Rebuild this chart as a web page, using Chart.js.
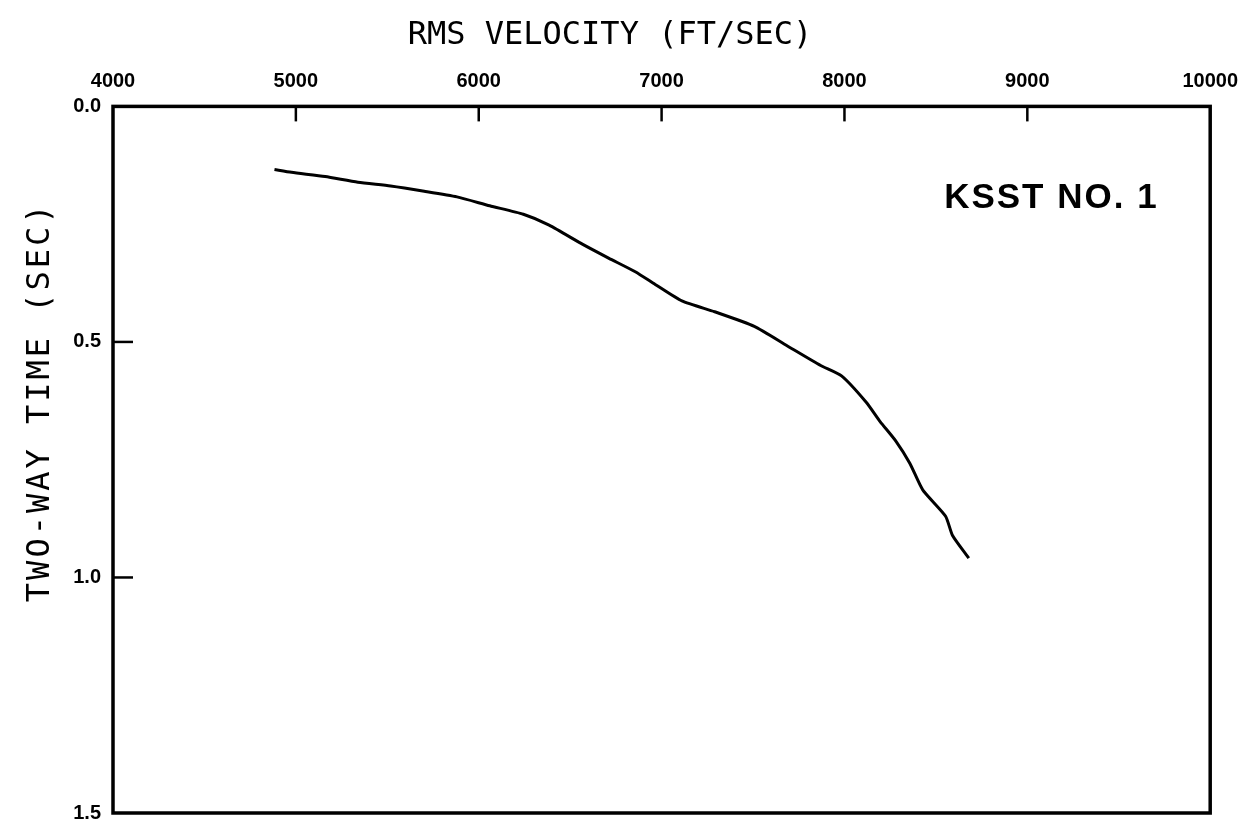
<!DOCTYPE html>
<html lang="en">
<head>
  <meta charset="UTF-8" />
  <title>RMS velocity - KSST No. 1</title>
  <script src="https://cdn.jsdelivr.net/npm/chart.js"></script>
  <style>
    body { margin: 0; background: #fff; }
    canvas { display: block; }
  </style>
</head>
<body>
  <canvas id="velChart" width="1251" height="837"></canvas>

  <script>
    // valeurs (vitesse RMS en ft/s, temps double en s)
    const velocity = [4883, 4976, 5160, 5339, 5518, 5702, 5881, 6060, 6244, 6385, 6569, 6710, 6856, 6965,
      7111, 7290, 7507, 7686, 7870, 7984, 8119, 8195, 8282, 8358, 8428, 8553, 8591, 8680];
    const twoWayTime = [0.134, 0.140, 0.149, 0.161, 0.169, 0.180, 0.192, 0.211, 0.229, 0.252, 0.293, 0.322, 0.351, 0.378,
      0.413, 0.436, 0.467, 0.508, 0.550, 0.572, 0.628, 0.669, 0.711, 0.758, 0.814, 0.870, 0.911, 0.959];

    const xTitle = 'RMS VELOCITY (FT/SEC)';
    const yTitle = 'TWO-WAY TIME (SEC)';
    const wellName = 'KSST NO. 1';

    const points = velocity.map((v, i) => ({ x: v, y: twoWayTime[i] }));

    // cadre, graduations vers l'intérieur et textes libres
    const framePlugin = {
      id: 'frame',
      afterDatasetsDraw(chart) {
        const { ctx, chartArea: a, scales } = chart;
        ctx.save();
        ctx.strokeStyle = '#000';
        ctx.lineWidth = 2.5;
        scales.x.ticks.forEach(t => {
          if (t.value <= scales.x.min || t.value >= scales.x.max) return;
          const px = scales.x.getPixelForValue(t.value);
          ctx.beginPath();
          ctx.moveTo(px, a.top);
          ctx.lineTo(px, a.top + 15);
          ctx.stroke();
        });
        scales.y.ticks.forEach(t => {
          if (t.value <= scales.y.min || t.value >= scales.y.max) return;
          const py = scales.y.getPixelForValue(t.value);
          ctx.beginPath();
          ctx.moveTo(a.left, py);
          ctx.lineTo(a.left + 20, py);
          ctx.stroke();
        });
        ctx.lineWidth = 3.5;
        ctx.strokeRect(a.left, a.top, a.right - a.left, a.bottom - a.top);

        ctx.fillStyle = '#000';
        // nom du puits
        ctx.font = 'bold 35px "Liberation Sans", Arial, sans-serif';
        ctx.letterSpacing = '2px';
        ctx.textAlign = 'right';
        ctx.textBaseline = 'middle';
        ctx.fillText(wellName, a.left + 0.953 * (a.right - a.left), a.top + 0.13 * (a.bottom - a.top));

        // titre vertical
        ctx.translate(41, a.top + 0.418 * (a.bottom - a.top));
        ctx.rotate(-Math.PI / 2);
        ctx.font = '32px "DejaVu Sans Mono", monospace';
        ctx.letterSpacing = '3px';
        ctx.textAlign = 'center';
        ctx.fillText(yTitle, 0, 0);
        ctx.restore();
      }
    };

    const tickFont = { family: '"Liberation Sans", Arial, sans-serif', size: 20, weight: 'bold' };

    new Chart(document.getElementById('velChart'), {
      type: 'scatter',
      data: {
        datasets: [{
          data: points,
          showLine: true,
          borderColor: '#000',
          borderWidth: 3,
          pointRadius: 0,
          tension: 0.2
        }]
      },
      options: {
        responsive: false,
        animation: false,
        layout: { padding: { left: 0, right: 31, top: 0, bottom: 5 } },
        plugins: {
          legend: { display: false },
          tooltip: { enabled: false },
          title: {
            display: true,
            text: xTitle,
            color: '#000',
            font: { family: '"DejaVu Sans Mono", monospace', size: 32, weight: 'normal' },
            padding: { top: 16, bottom: 12 }
          }
        },
        scales: {
          x: {
            type: 'linear',
            position: 'top',
            min: 4000,
            max: 10000,
            ticks: { stepSize: 1000, color: '#000', font: tickFont, padding: 13, maxRotation: 0, autoSkip: false,
              callback: v => String(v) },
            grid: { display: false, drawTicks: false },
            border: { display: false },
            afterFit: s => { s.height = 40; }
          },
          y: {
            type: 'linear',
            reverse: true,
            min: 0,
            max: 1.5,
            ticks: { stepSize: 0.5, color: '#000', font: tickFont, padding: 12, callback: v => v.toFixed(1) },
            grid: { display: false, drawTicks: false },
            border: { display: false },
            afterFit: s => { s.width = 113; }
          }
        }
      },
      plugins: [framePlugin]
    });
  </script>
</body>
</html>
